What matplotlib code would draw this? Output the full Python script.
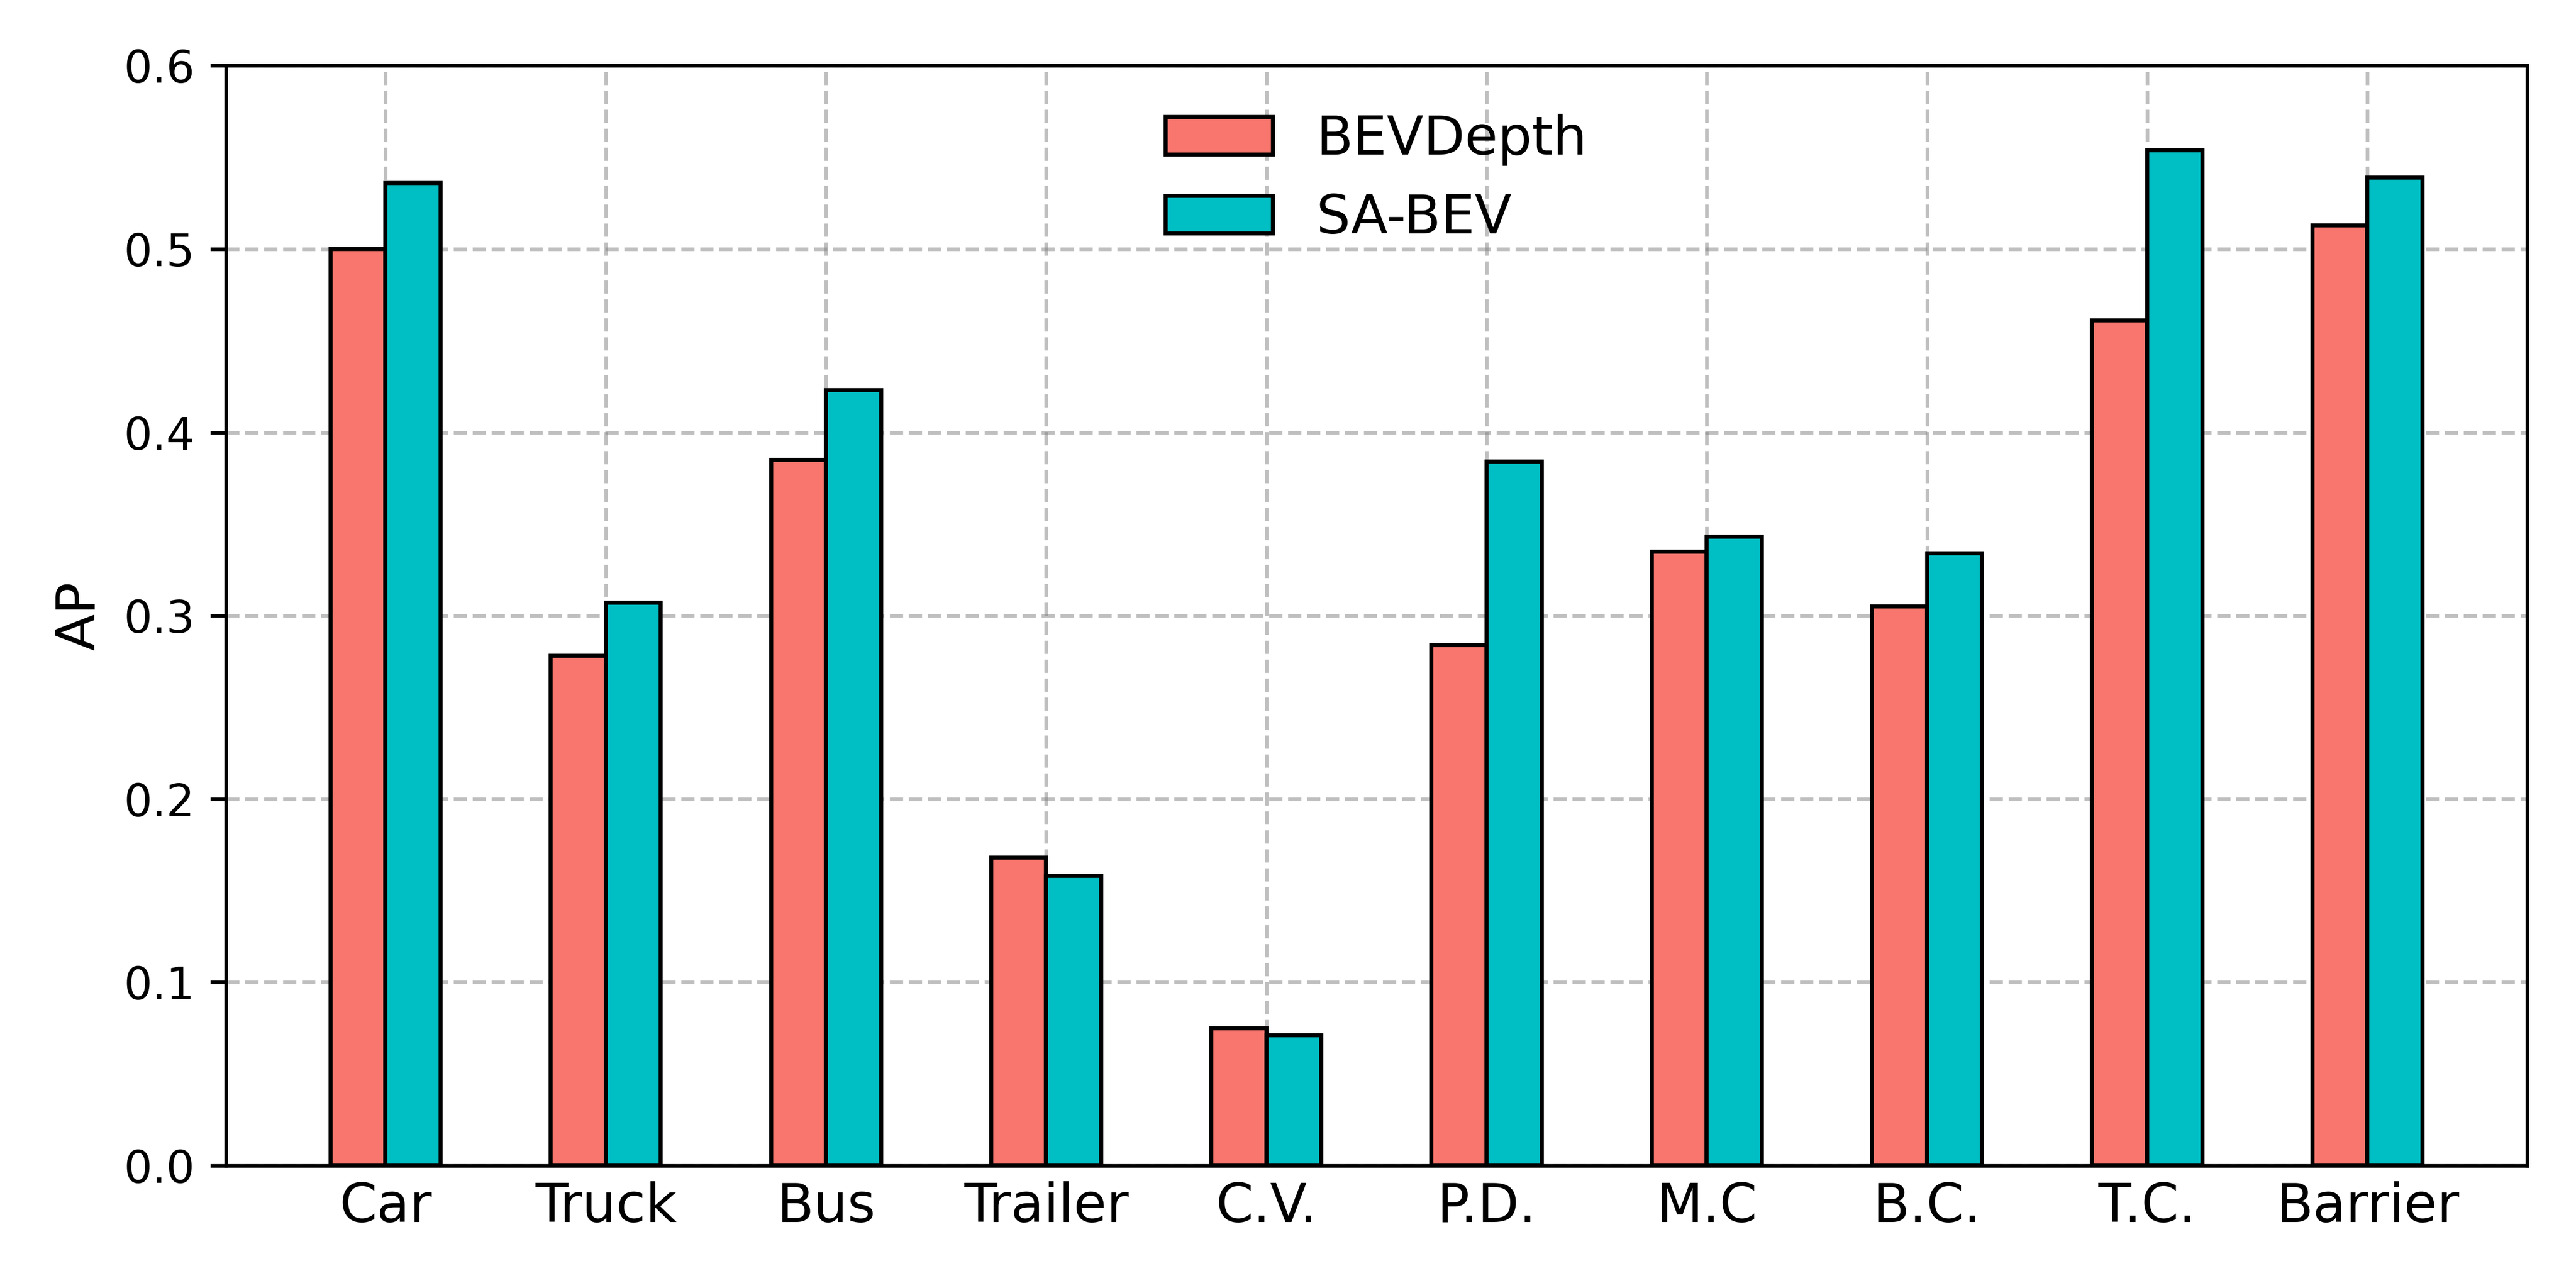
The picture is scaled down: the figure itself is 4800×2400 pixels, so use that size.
import numpy as np
import matplotlib.pyplot as plt

categories = ['Car', 'Truck', 'Bus', 'Trailer', 'C.V.', 'P.D.', 'M.C', 'B.C.', 'T.C.', 'Barrier']
bevdepth = [0.500, 0.278, 0.385, 0.168, 0.075, 0.284, 0.335, 0.305, 0.461, 0.513]
sa_bev = [0.536, 0.307, 0.423, 0.158, 0.071, 0.384, 0.343, 0.334, 0.554, 0.539]

x = np.arange(len(categories))
width = 0.25

fig, ax = plt.subplots(figsize=(8, 4), dpi=600)
fig.subplots_adjust(left=0.0877, right=0.981, bottom=0.095, top=0.949)

ax.bar(x - width / 2, bevdepth, width, color='#F8766D', edgecolor='black',
       linewidth=0.9, label='BEVDepth')
ax.bar(x + width / 2, sa_bev, width, color='#00BFC4', edgecolor='black',
       linewidth=0.9, label='SA-BEV')

ax.set_ylim(0, 0.6)
ax.set_xticks(x)
ax.set_xticklabels(categories, fontsize=12)
ax.tick_params(axis='x', length=0)
ax.tick_params(axis='y', labelsize=10)
ax.set_ylabel('AP', fontsize=12)

ax.set_axisbelow(True)
ax.grid(True, linestyle='--', color='gray', alpha=0.5)
ax.legend(loc='upper center', frameon=False, fontsize=12)

plt.savefig('out.png', dpi=600)
